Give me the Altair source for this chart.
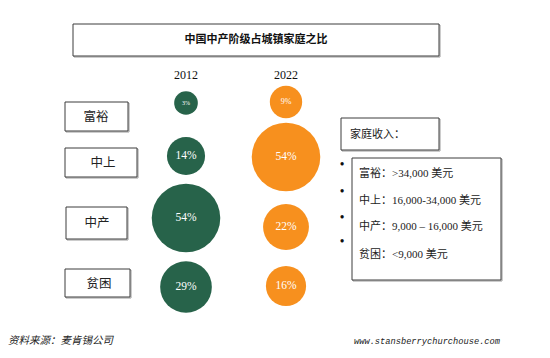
import altair as alt
import pandas as pd

# ---- data ----
categories = ["富裕", "中上", "中产", "贫困"]
years = ["2012", "2022"]
share_2012 = [3, 14, 54, 29]
share_2022 = [9, 54, 22, 16]
income_labels = ["富裕：>34,000 美元", "中上：16,000-34,000 美元",
                 "中产：9,000 – 16,000 美元", "贫困：<9,000 美元"]
title_text = "中国中产阶级占城镇家庭之比"
legend_title = "家庭收入："
source_text = "资料来源：麦肯锡公司"
url_text = "www.stansberrychurchouse.com"

# ---- layout (pixel frame of the picture) ----
YEAR_X = {"2012": 186, "2022": 286}
BUBBLE_Y = {("2012", "富裕"): 103, ("2012", "中上"): 156, ("2012", "中产"): 218, ("2012", "贫困"): 287,
            ("2022", "富裕"): 102, ("2022", "中上"): 157, ("2022", "中产"): 227, ("2022", "贫困"): 286}
CAT_BOX = {"富裕": (65, 128, 102, 131), "中上": (65, 137, 148, 177),
           "中产": (66, 127, 207, 239), "贫困": (65, 130, 269, 297)}
CAT_TXT = {"富裕": (96, 117), "中上": (103, 163), "中产": (97, 223), "贫困": (99, 284)}

X = alt.Scale(domain=[8, 542], nice=False, zero=False)
Y = alt.Scale(domain=[8, 350], nice=False, zero=False, reverse=True)
COLORS = alt.Scale(domain=years, range=["#27634A", "#F7901E"])
SERIF_CJK = "Liberation Serif, Noto Sans CJK SC"

rows = []
for yr, vals in zip(years, [share_2012, share_2022]):
    for c, v in zip(categories, vals):
        rows.append({"year": yr, "cat": c, "share": v, "label": f"{v}%",
                     "x": YEAR_X[yr], "y": BUBBLE_Y[(yr, c)],
                     "fs": 6 if v < 5 else (8 if v < 10 else 11.5)})
bub = pd.DataFrame(rows)

bubbles = alt.Chart(bub).mark_circle(opacity=1).encode(
    x=alt.X("x:Q", scale=X, axis=None),
    y=alt.Y("y:Q", scale=Y, axis=None),
    size=alt.Size("share:Q", scale=alt.Scale(domain=[3, 54], range=[560, 4700], zero=False), legend=None),
    color=alt.Color("year:N", scale=COLORS, legend=None),
)
bub_txt = alt.Chart(bub).mark_text(color="white", font="Liberation Serif", baseline="middle").encode(
    x=alt.X("x:Q", scale=X, axis=None),
    y=alt.Y("y:Q", scale=Y, axis=None),
    text="label:N",
    size=alt.Size("fs:Q", scale=None, legend=None),
)

yr_df = pd.DataFrame({"year": years, "x": [YEAR_X[y] for y in years], "y": [75, 75]})
yr_txt = alt.Chart(yr_df).mark_text(font="Liberation Serif", fontSize=12, color="#111", baseline="middle").encode(
    x=alt.X("x:Q", scale=X, axis=None), y=alt.Y("y:Q", scale=Y, axis=None), text="year:N")

# boxes
boxes = [{"x": 73, "x2": 439, "y": 24, "y2": 56}, {"x": 341, "x2": 439, "y": 118, "y2": 150},
         {"x": 352, "x2": 501, "y": 158, "y2": 280}]
for c in categories:
    b = CAT_BOX[c]
    boxes.append({"x": b[0], "x2": b[1], "y": b[2], "y2": b[3]})
box_df = pd.DataFrame(boxes)
shadow_df = box_df.copy()
shadow_df[["x", "x2"]] += 1
shadow_df[["y", "y2"]] += 1
shadow = alt.Chart(shadow_df).mark_rect(fill="white", stroke="#9a9a9a", strokeWidth=1).encode(
    x=alt.X("x:Q", scale=X, axis=None), x2="x2:Q",
    y=alt.Y("y:Q", scale=Y, axis=None), y2="y2:Q")
box = alt.Chart(box_df).mark_rect(fill="white", stroke="#3c3c3c", strokeWidth=1).encode(
    x=alt.X("x:Q", scale=X, axis=None), x2="x2:Q",
    y=alt.Y("y:Q", scale=Y, axis=None), y2="y2:Q")

cat_df = pd.DataFrame({"cat": categories, "x": [CAT_TXT[c][0] for c in categories],
                       "y": [CAT_TXT[c][1] for c in categories]})
cat_txt = alt.Chart(cat_df).mark_text(font="Noto Sans CJK SC", fontSize=12.5, color="#222", baseline="middle").encode(
    x=alt.X("x:Q", scale=X, axis=None), y=alt.Y("y:Q", scale=Y, axis=None), text="cat:N")

title_df = pd.DataFrame({"t": [title_text], "x": [256], "y": [40]})
title = alt.Chart(title_df).mark_text(font="Noto Sans CJK SC", fontSize=11, fontWeight="bold",
                                      color="#111", baseline="middle").encode(
    x=alt.X("x:Q", scale=X, axis=None), y=alt.Y("y:Q", scale=Y, axis=None), text="t:N")

leg_df = pd.DataFrame({"t": [legend_title], "x": [350], "y": [135]})
leg_title = alt.Chart(leg_df).mark_text(font="Noto Sans CJK SC", fontSize=11, color="#222",
                                        align="left", baseline="middle").encode(
    x=alt.X("x:Q", scale=X, axis=None), y=alt.Y("y:Q", scale=Y, axis=None), text="t:N")

inc_df = pd.DataFrame({"t": income_labels, "x": [359] * 4, "y": [174, 201, 227, 255]})
inc_txt = alt.Chart(inc_df).mark_text(font=SERIF_CJK, fontSize=11, color="#222",
                                      align="left", baseline="middle").encode(
    x=alt.X("x:Q", scale=X, axis=None), y=alt.Y("y:Q", scale=Y, axis=None), text="t:N")

bul_df = pd.DataFrame({"t": ["•"] * 4, "x": [342] * 4, "y": [164, 191, 217, 241]})
bul = alt.Chart(bul_df).mark_text(font="Liberation Serif", fontSize=12, fontWeight="bold", color="#111",
                                  baseline="middle").encode(
    x=alt.X("x:Q", scale=X, axis=None), y=alt.Y("y:Q", scale=Y, axis=None), text="t:N")

foot_df = pd.DataFrame({"t": [source_text], "x": [8], "y": [341]})
foot = alt.Chart(foot_df).mark_text(font="Noto Sans CJK SC", fontSize=10.5, fontStyle="italic", color="#222",
                                    align="left", baseline="middle").encode(
    x=alt.X("x:Q", scale=X, axis=None), y=alt.Y("y:Q", scale=Y, axis=None), text="t:N")
url_df = pd.DataFrame({"t": [url_text], "x": [500], "y": [341]})
url = alt.Chart(url_df).mark_text(font="Liberation Mono", fontSize=8.7, fontStyle="italic", color="#222",
                                  align="right", baseline="middle").encode(
    x=alt.X("x:Q", scale=X, axis=None), y=alt.Y("y:Q", scale=Y, axis=None), text="t:N")

chart = alt.layer(shadow, box, title, cat_txt, yr_txt, bubbles, bub_txt, leg_title, inc_txt, bul, foot, url).properties(
    width=534, height=342, padding=0, autosize=alt.AutoSizeParams(type="none"),
    background="white"
).configure_view(stroke=None)

chart.save("out.html", embed_options={"renderer": "svg", "actions": False})
